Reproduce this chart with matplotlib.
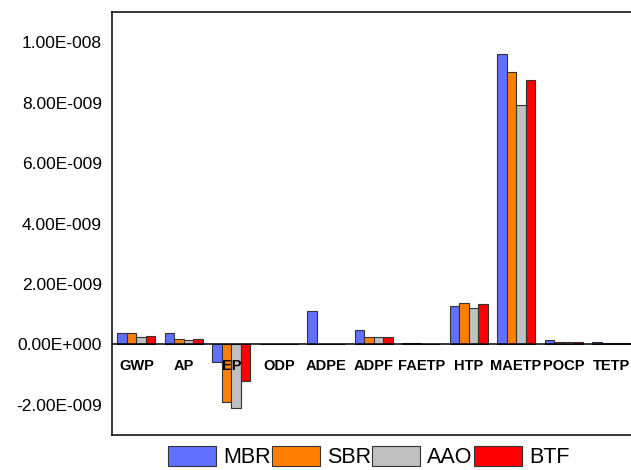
import matplotlib
matplotlib.use("Agg")
import matplotlib.pyplot as plt
import numpy as np
from matplotlib.ticker import FuncFormatter

plt.rcParams['font.family'] = ['Liberation Sans', 'DejaVu Sans']

categories = ['GWP', 'AP', 'EP', 'ODP', 'ADPE', 'ADPF', 'FAETP', 'HTP', 'MAETP', 'POCP', 'TETP']
series = ['MBR', 'SBR', 'AAO', 'BTF']
colors = ['#6070ff', '#ff8000', '#c0c0c0', '#ff0000']

# values in units of 1e-9
mbr = [0.39, 0.37, -0.57, 0.0, 1.09, 0.48, 0.03, 1.26, 9.63, 0.16, 0.07]
sbr = [0.37, 0.19, -1.92, 0.0, 0.01, 0.26, 0.03, 1.37, 9.03, 0.08, 0.06]
aao = [0.26, 0.16, -2.12, 0.0, 0.01, 0.25, 0.02, 1.20, 7.92, 0.08, 0.05]
btf = [0.29, 0.18, -1.20, 0.0, 0.01, 0.26, 0.02, 1.33, 8.77, 0.09, 0.06]
data = [mbr, sbr, aao, btf]

yticks = [-2e-9, 0, 2e-9, 4e-9, 6e-9, 8e-9, 1e-8]


def sci_fmt(v, pos=None):
    if v == 0:
        return '0.00E+000'
    exp = int(np.floor(np.log10(abs(v)) + 1e-9))
    mant = v / 10 ** exp
    sign = '-' if exp < 0 else '+'
    return '%.2fE%s%03d' % (mant, sign, abs(exp))


fig = plt.figure(figsize=(6.31, 4.70), dpi=100)
ax = fig.add_axes([0.177, 0.0745, 0.823, 0.8995])

x = np.arange(len(categories))
w = 0.2
for i, (name, vals) in enumerate(zip(series, data)):
    ax.bar(x + (i - 1.5) * w, np.array(vals) * 1e-9, width=w, color=colors[i],
           edgecolor='#333333', linewidth=0.8, label=name, zorder=2)

ax.axhline(0, color='black', linewidth=1.1, zorder=3)

for xi, name in zip(x, categories):
    ax.text(xi, -0.7e-9, name, ha='center', va='center', fontsize=10.5,
            fontweight='bold', zorder=4)

ax.set_xlim(-0.52, 10.42)
ax.set_ylim(-3e-9, 1.1e-8)
ax.set_xticks([])
ax.set_yticks(yticks)
ax.yaxis.set_major_formatter(FuncFormatter(sci_fmt))
ax.tick_params(axis='y', length=0, pad=7, labelsize=12.5)

for s in ['left', 'top', 'bottom']:
    ax.spines[s].set_linewidth(1.1)
ax.spines['right'].set_visible(False)

fig.legend(loc='upper left', bbox_to_anchor=(168 / 631, 1 - 446 / 470), ncol=4,
           frameon=False, fontsize=15.5, handlelength=2.23, handleheight=1.07,
           handletextpad=0.33, columnspacing=0.05, borderpad=0, borderaxespad=0)

fig.savefig('out.png', dpi=100)
